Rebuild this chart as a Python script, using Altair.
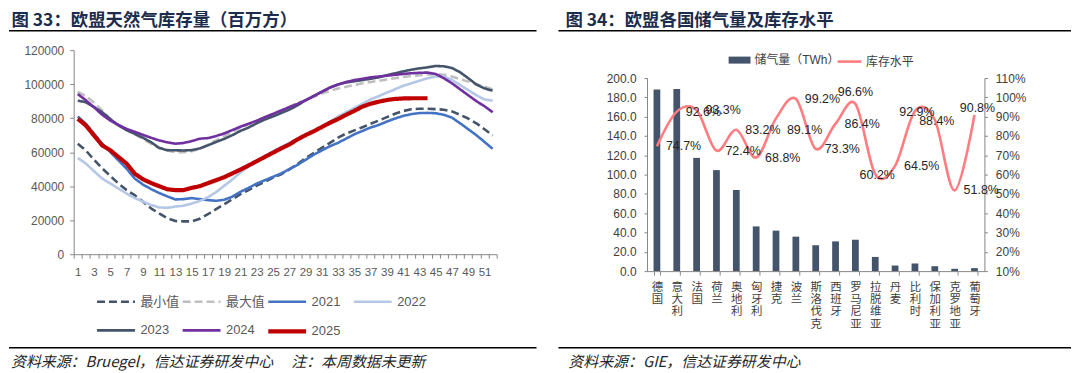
import altair as alt
import pandas as pd

# ---------------- Left panel data (EU gas storage, million m3, by week) ----------------
weeks = list(range(1, 53))
series_names = ["最小值", "最大值", "2021", "2022", "2023", "2024", "2025"]

min_vals = [65000, 61000, 55500, 50500, 46000, 41600, 37700, 34700, 31000, 27000, 24000, 21200, 19500,
            19300, 19300, 20800, 23500, 26500, 29400, 32300, 35300, 37700, 40300, 42500, 45000, 47000,
            49800, 53000, 56500, 59500, 62500, 65500, 68500, 71000, 72800, 74700, 76700, 78600, 80600,
            82600, 84200, 85200, 85500, 85500, 85300, 85000, 84000, 82000, 79800, 77000, 73500, 69800]
max_vals = [95500, 93000, 89000, 84500, 79500, 76000, 73000, 70500, 68000, 65000, 62500, 61000, 60000,
            60000, 60500, 62000, 64500, 67000, 69500, 72000, 74500, 76500, 78500, 80500, 82500, 84500,
            86500, 89000, 90500, 92500, 94500, 96000, 97500, 98500, 99500, 100500, 101300, 102000, 102800,
            103500, 104200, 104800, 105300, 105700, 105900, 105500, 104500, 103000, 101500, 100000, 98500, 97000]
y2021 = [81000, 76700, 70800, 65000, 60100, 55200, 50300, 44500, 41000, 38300, 36000, 34000, 32200,
         32400, 33000, 32400, 31800, 31400, 32000, 33800, 36700, 39000, 41500, 43500, 45500, 47500,
         50000, 52500, 55500, 58500, 61000, 63500, 65500, 68000, 70500, 72500, 74500, 76000, 78000,
         79800, 81300, 82400, 83000, 83100, 82900, 82000, 80300, 77000, 73500, 70000, 66000, 62000]
y2022 = [56600, 53300, 48800, 44500, 41600, 38600, 35700, 33000, 31000, 29000, 27500, 27300, 28000,
         28500, 29800, 31300, 33500, 36500, 40200, 44000, 48000, 51500, 54700, 57700, 60500, 63000,
         65500, 67800, 70000, 72500, 75000, 78000, 81000, 83500, 86000, 88500, 91000, 93000, 95000,
         97000, 99000, 100500, 102000, 103500, 104500, 104500, 102500, 99500, 96500, 93500, 91000, 90300]
y2023 = [90300, 89400, 86500, 83500, 79500, 75700, 73000, 70800, 68500, 65900, 62500, 61200, 61100,
         61000, 61200, 62200, 64000, 66000, 67800, 70000, 72500, 74500, 77000, 79200, 81000, 83000,
         85000, 87500, 90500, 93000, 95500, 98000, 99800, 101000, 101700, 102400, 103200, 104000, 105200,
         106400, 107500, 108500, 109300, 109900, 110700, 110500, 109500, 107000, 103500, 99800, 97500, 96200]
y2024 = [94200, 90500, 86400, 82000, 78600, 76000, 73700, 72000, 70200, 68500, 66900, 65800, 65000,
         65400, 66500, 67900, 68300, 69500, 71000, 73000, 75000, 76700, 78500, 80600, 82500, 84500,
         86500, 88400, 90500, 93000, 95500, 98000, 99800, 101300, 102400, 103200, 104000, 104500, 105000,
         105500, 106000, 106400, 106700, 106800, 106000, 103500, 100500, 97000, 93500, 90000, 87000, 83500]
y2025 = [79600, 75700, 69800, 64000, 61100, 57200, 53300, 47400, 44100, 41900, 40000, 38200, 37700,
         37700, 39000, 40000, 41800, 43500, 45300, 47500, 49800, 52200, 54700, 57200, 59700, 62200,
         64500, 67500, 70000, 72300, 74800, 77300, 79500, 82000, 84300, 86800, 88500, 89700, 90700,
         91300, 91600, 91700, 91700, 91700]

series_values = [min_vals, max_vals, y2021, y2022, y2023, y2024, y2025]

# ---------------- Right panel data ----------------
countries = ["德国", "意大利", "法国", "荷兰", "奥地利", "匈牙利", "捷克", "波兰", "斯洛伐克", "西班牙",
             "罗马尼亚", "拉脱维亚", "丹麦", "比利时", "保加利亚", "克罗地亚", "葡萄牙"]
storage = [188.0, 188.7, 117.3, 104.6, 84.0, 46.3, 41.9, 35.7, 26.8, 30.8, 32.5, 14.7, 5.8, 7.9, 5.1, 2.4, 3.1]
level = [0.747, 0.926, 0.933, 0.724, 0.832, 0.688, 0.891, 0.992, 0.733, 0.864, 0.966, 0.602, 0.645,
         0.929, 0.884, 0.518, 0.908]

left_title = "图 33：欧盟天然气库存量（百万方）"
right_title = "图 34：欧盟各国储气量及库存水平"
left_source = "资料来源：Bruegel，信达证券研发中心　 注：本周数据未更新"
right_source = "资料来源：GIE，信达证券研发中心"
bar_name = "储气量（TWh）"
line_name = "库存水平"

# ---------------- tables ----------------
rows = []
for name, vals in zip(series_names, series_values):
    for w, v in zip(weeks, vals):
        rows.append({"series": name, "week": w, "value": v})
df_left = pd.DataFrame(rows)

df_right = pd.DataFrame({"country": countries, "storage": storage, "level": level,
                         "bar_name": bar_name, "line_name": line_name})

# ---------------- styles ----------------
LAT = "Liberation Sans, Arial, Noto Sans CJK SC, sans-serif"
CJK = "Noto Sans CJK SC, sans-serif"
AX = "#868686"

line_colors = ["#44546A", "#BFBFBF", "#4472C4", "#B4C7E7", "#44546A", "#7030A0", "#C00000"]
line_dashes = [[8, 4], [8, 4], [1, 0], [1, 0], [1, 0], [1, 0], [1, 0]]
line_widths = [2.6, 2.6, 2.6, 2.6, 2.6, 2.6, 4.2]


def text_deco(txt, x, y, size, color, weight="normal", style="normal", font=CJK):
    return alt.Chart(pd.DataFrame({"t": [txt]})).mark_text(
        align="left", baseline="middle", fontSize=size, font=font, fontWeight=weight,
        fontStyle=style, color=color
    ).encode(x=alt.value(x), y=alt.value(y), text="t:N")


def rule_deco(x1, x2, y, w=1.5):
    return alt.Chart(pd.DataFrame({"a": [0]})).mark_rule(color="#000000", strokeWidth=w).encode(
        x=alt.value(x1), x2=alt.value(x2), y=alt.value(y))


# ---------------- Left chart ----------------
W1, H1 = 425, 205
leg_left = alt.Legend(orient="none", legendX=21, legendY=231, direction="horizontal", columns=4,
                      gridAlign="all", symbolType="stroke", symbolSize=1444, labelFont=LAT,
                      labelFontSize=13, labelColor="#595959", labelOffset=3, columnPadding=-7,
                      rowPadding=-6, padding=0, title=None)

x_left = alt.X("week:O", bandPosition=0.5,
               scale=alt.Scale(type="band", paddingInner=0, paddingOuter=0),
               axis=alt.Axis(title=None, labelAngle=0, tickBand="extent",
                             labelExpr="datum.value % 2 == 1 ? datum.label : ''",
                             labelOverlap=False, labelFont=LAT, labelFontSize=11.5,
                             labelColor="#595959", tickSize=4, tickColor=AX, domainColor=AX,
                             labelPadding=8))
y_left = alt.Y("value:Q", scale=alt.Scale(domain=[0, 120000]),
               axis=alt.Axis(title=None, values=[0, 20000, 40000, 60000, 80000, 100000, 120000],
                             format="d", grid=False, labelFont=LAT, labelFontSize=12,
                             labelColor="#595959", tickSize=4, tickColor=AX, domainColor=AX,
                             labelPadding=6))

lines = alt.Chart(df_left).mark_line(strokeCap="butt", strokeJoin="round").encode(
    x=x_left,
    y=y_left,
    color=alt.Color("series:N", scale=alt.Scale(domain=series_names, range=line_colors), legend=leg_left),
    strokeDash=alt.StrokeDash("series:N", scale=alt.Scale(domain=series_names, range=line_dashes), legend=leg_left),
    strokeWidth=alt.StrokeWidth("series:N", scale=alt.Scale(type="ordinal", domain=series_names, range=line_widths), legend=leg_left),
)

left = alt.layer(
    lines,
    text_deco(left_title, -62.5, -29.5, 17.5, "#1c2c4c", weight="bold"),
    rule_deco(-65, 465, -19.5),
    rule_deco(-65, 465, 299),
    text_deco(left_source, -63, 313.5, 15, "#262626", style="italic"),
).properties(width=W1, height=H1)

# ---------------- Right chart ----------------
W2, H2 = 339, 222
x_right = alt.X("country:N", sort=countries,
                scale=alt.Scale(paddingInner=0.66, paddingOuter=0.33),
                axis=alt.Axis(title=None, labelAngle=0, labelExpr="split(datum.label, '')",
                              labelLineHeight=12.5, labelBaseline="top", labelAlign="center",
                              tickBand="extent", labelFont=CJK, labelFontSize=11.5,
                              labelColor="#404040", tickSize=4, tickColor=AX, domainColor=AX,
                              labelPadding=6, labelOverlap=False, labelBound=False))

y_bar = alt.Y("storage:Q", scale=alt.Scale(domain=[0, 200], range=[222, 28]),
              axis=alt.Axis(title=None, values=[0, 20, 40, 60, 80, 100, 120, 140, 160, 180, 200],
                            format=".1f", grid=False, labelFont=LAT, labelFontSize=12,
                            labelColor="#404040", tickSize=3, tickColor=AX, domainColor=AX,
                            labelPadding=8))
pct_ticks = [round(0.1 * i, 1) for i in range(1, 12)]
y_line = alt.Y("level:Q", scale=alt.Scale(domain=[0.1, 1.1], range=[222, 28]),
               axis=alt.Axis(orient="right", title=None, values=pct_ticks, format=".0%", grid=False,
                             labelFont=LAT, labelFontSize=12, labelColor="#404040", tickSize=3,
                             tickColor=AX, domainColor=AX, labelPadding=8))

bars = alt.Chart(df_right).mark_bar().encode(
    x=x_right,
    y=y_bar,
    color=alt.Color("bar_name:N", scale=alt.Scale(domain=[bar_name], range=["#44546A"]),
                    legend=alt.Legend(orient="none", legendX=81, legendY=-2,
                                      symbolType="M-1,-0.32H1V0.32H-1Z", symbolSize=484,
                                      labelFont=LAT, labelFontSize=12, labelColor="#404040",
                                      labelOffset=3, padding=0, title=None)),
)

line = alt.Chart(df_right).mark_line(interpolate="cardinal", strokeWidth=2.6).encode(
    x=x_right,
    y=y_line,
    stroke=alt.Stroke("line_name:N", scale=alt.Scale(domain=[line_name], range=["#FF7C80"]),
                      legend=alt.Legend(orient="none", legendX=190, legendY=-2, symbolType="stroke",
                                        symbolSize=576, symbolStrokeWidth=2.6, labelFont=LAT,
                                        labelFontSize=12, labelColor="#404040", labelOffset=3,
                                        padding=0, title=None)),
)


def label_layer(sel, align, dx, dy):
    return alt.Chart(df_right).transform_filter(
        alt.FieldOneOfPredicate(field="country", oneOf=sel)
    ).mark_text(align=align, baseline="middle", dx=dx, dy=dy, font=LAT, fontSize=12.5,
                color="#262626").encode(
        x=x_right, y=y_line, text=alt.Text("level:Q", format=".1%"))


right_labels = ["德国", "意大利", "法国", "荷兰", "奥地利", "匈牙利", "波兰", "斯洛伐克", "西班牙", "丹麦", "克罗地亚"]
labels = [
    label_layer(right_labels, "left", 9, 0),
    label_layer(["捷克"], "left", 11, 12),
    label_layer(["罗马尼亚"], "center", 0, -12),
    label_layer(["拉脱维亚", "比利时", "保加利亚"], "center", 2, 1),
    label_layer(["葡萄牙"], "center", 3, -7),
]

right = alt.layer(
    bars,
    alt.layer(line, *labels),
    text_deco(right_title, -82, -29.5, 17.5, "#1c2c4c", weight="bold"),
    rule_deco(-89, 426, -19.5),
    rule_deco(-89, 426, 299),
    text_deco(right_source, -79, 313.5, 15, "#262626", style="italic"),
).resolve_scale(y="independent").properties(width=W2, height=H2)

chart = alt.hconcat(left, right, spacing=151, bounds="flush").resolve_scale(
    color="independent", stroke="independent", strokeDash="independent", strokeWidth="independent"
).resolve_legend(
    color="independent", stroke="independent", strokeDash="independent", strokeWidth="independent"
).properties(
    padding={"left": 0, "top": 2.5, "right": 0, "bottom": 0},
    background="white",
).configure_view(strokeWidth=0)

chart.save("out.html", embed_options={"renderer": "svg", "actions": False})
